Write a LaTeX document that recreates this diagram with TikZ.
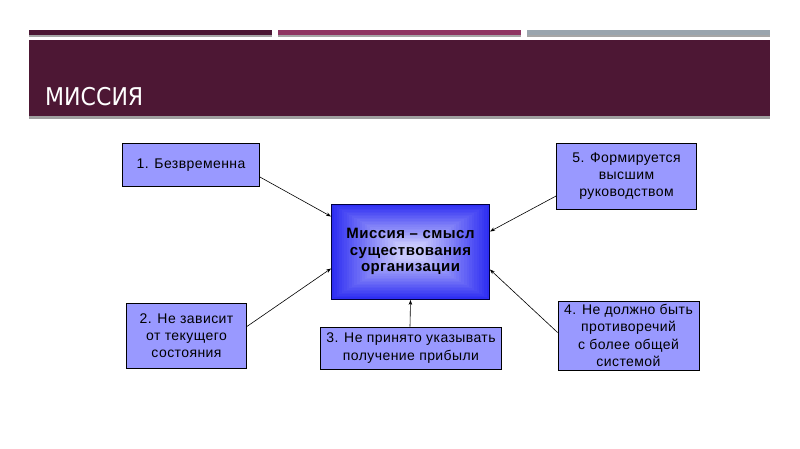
\documentclass[tikz,border=0pt]{standalone}
\usepackage{fontspec}
\setmainfont{Liberation Sans}[LetterSpace=3]
\newfontfamily\titlefont[FakeStretch=0.9]{DejaVu Sans}
\usetikzlibrary{calc,arrows.meta}
\definecolor{hdr}{HTML}{4D1734}
\definecolor{barA}{HTML}{4B1634}
\definecolor{barB}{HTML}{8E3562}
\definecolor{barC}{HTML}{9AA5AE}
\definecolor{boxfill}{HTML}{9999FF}
\definecolor{cedge}{HTML}{2E2EF2}
\definecolor{cmid}{HTML}{C8C8FC}
\definecolor{cborder}{HTML}{000040}
\tikzset{
  sidebox/.style={draw=black, line width=0.8pt, fill=boxfill, align=center,
    font=\fontsize{14}{17.3}\selectfont, text=black, inner sep=0pt},
  arr/.style={-{Stealth[length=5pt,width=3.6pt]}, line width=0.6pt, draw=black},
}
\begin{document}
\begin{tikzpicture}[x=1pt,y=-1pt]
\useasboundingbox (0,0) rectangle (800,449);
\fill[white] (0,0) rectangle (800,449);
% top bars
\fill[barA] (29,30) rectangle (272,35);
\fill[barB] (278,30) rectangle (521,35);
\fill[barC] (527,30) rectangle (770,35);
\fill[gray!70] (29,35) rectangle (272,37);
\fill[gray!70] (278,35) rectangle (521,37);
\fill[gray!70] (527,35) rectangle (770,37);
% header band
\fill[hdr] (29,40) rectangle (770,116);
\fill[gray!75] (29,116) rectangle (770,119);
\node[anchor=base west, inner sep=0pt, text=white, font=\titlefont\fontsize{24.5}{26}\selectfont] (title) at (45,106) {МИССИЯ};
% center box with rectangular gradient
\foreach \i in {0,...,30}{
  \pgfmathsetmacro{\p}{min(100,115*\i/30)}
  \pgfmathsetmacro{\dx}{79*\i/31}
  \pgfmathsetmacro{\dy}{47.5*\i/31}
  \fill[cmid!\p!cedge] (331.5+\dx,204+\dy) rectangle (489.5-\dx,299-\dy);
}
\node[draw=cborder, line width=0.9pt, minimum width=158pt, minimum height=95pt, inner sep=0pt,
  align=center, font=\bfseries\fontsize{15}{16.5}\selectfont] (c) at (410.5,251.5)
  {Миссия – смысл\\существования\\организации};
% side boxes
\node[sidebox, minimum width=137pt, minimum height=43pt] (n1) at (191,165) {1. Безвременна};
\node[sidebox, minimum width=120pt, minimum height=65pt] (n2) at (186.5,335.5) {2. Не зависит\\от текущего\\состояния};
\node[sidebox, minimum width=181pt, minimum height=42pt] (n3) at (411,348) {3. Не принято указывать\\получение прибыли};
\node[sidebox, minimum width=141pt, minimum height=69pt] (n4) at (628.5,335.5) {4. Не должно быть\\противоречий\\с более общей\\системой};
\node[sidebox, minimum width=140pt, minimum height=66pt] (n5) at (626.5,176) {5. Формируется\\высшим\\руководством};
% arrows
\draw[arr] ($(n1.east)+(0,12)$) -- ($(c.west)+(0,-35)$);
\draw[arr] ($(n2.east)+(0,-9)$) -- ($(c.west)+(0,17)$);
\draw[arr] ($(n3.north)+(-1,0)$) -- ($(c.south)+(0,0.5)$);
\draw[arr] ($(n5.west)+(0,20)$) -- ($(c.east)+(0,-20)$);
\draw[arr] ($(n4.west)+(0,-3)$) -- ($(c.east)+(0,18)$);
\end{tikzpicture}
\end{document}
